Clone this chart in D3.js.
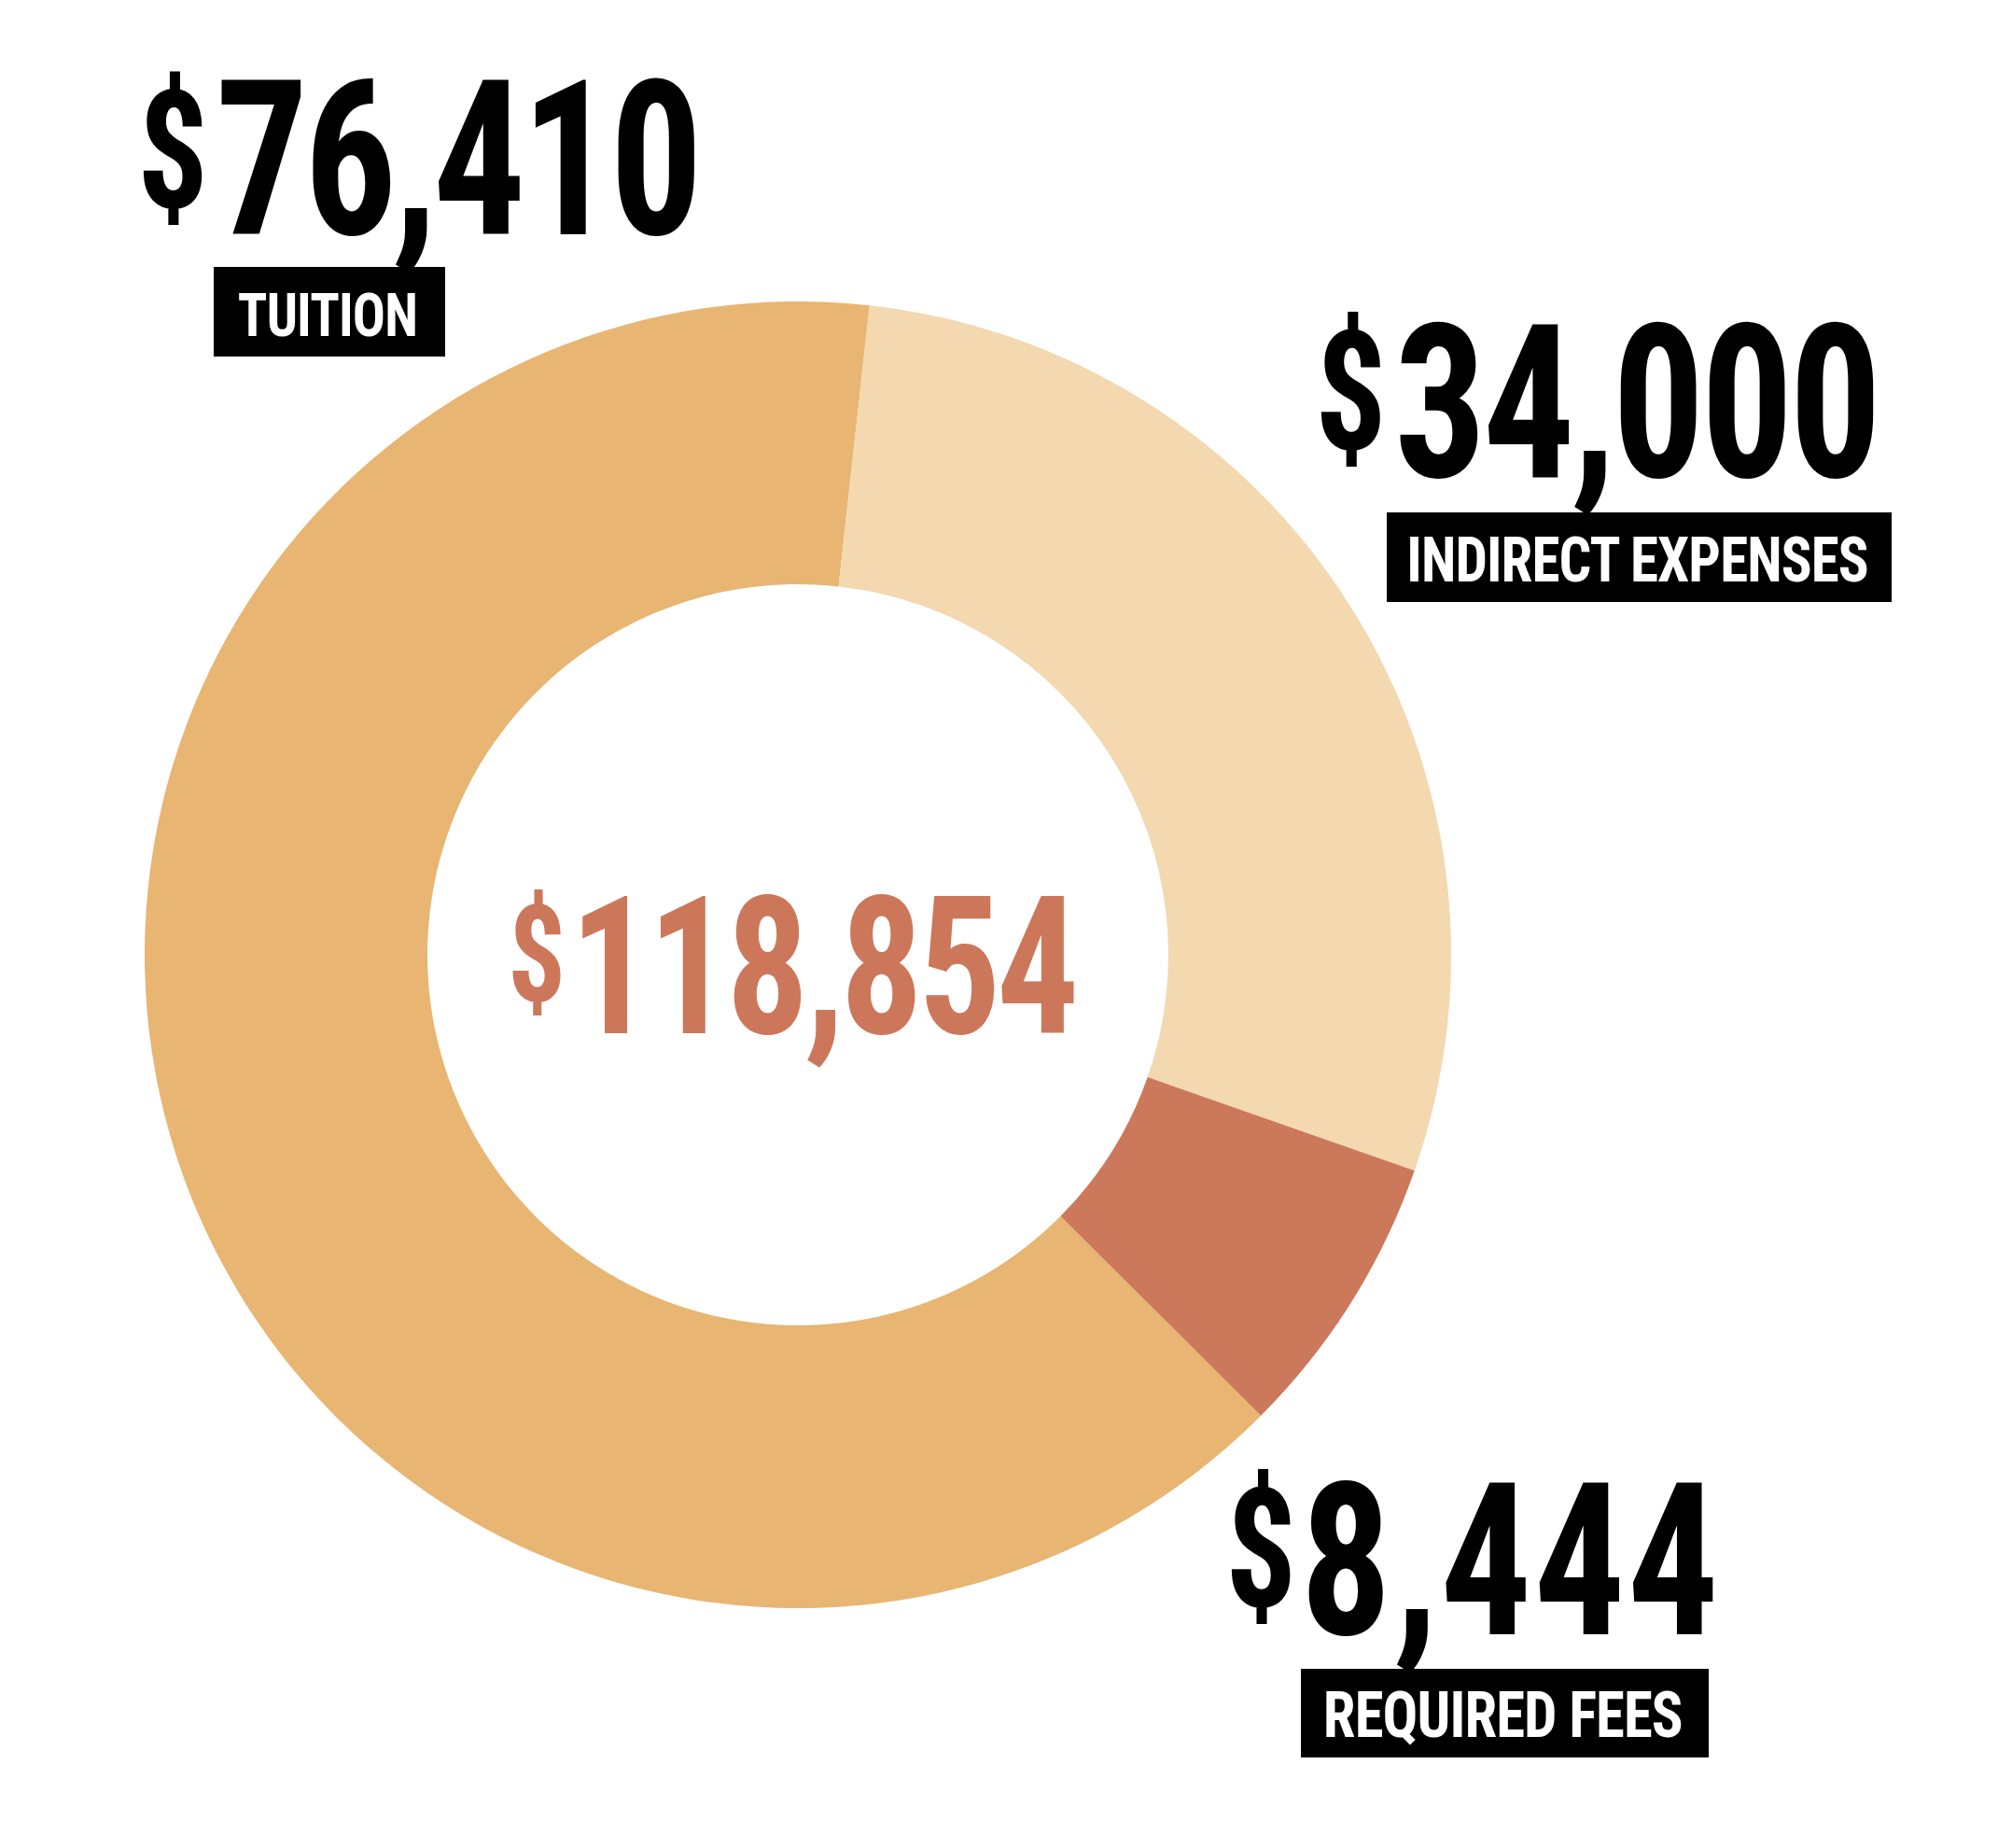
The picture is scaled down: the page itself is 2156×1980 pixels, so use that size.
<!DOCTYPE html>
<html>
<head>
<meta charset="utf-8">
<script src="https://cdn.jsdelivr.net/npm/d3@7"></script>
<style>
  html, body { margin: 0; padding: 0; background: #ffffff; }
  svg { display: block; }
</style>
</head>
<body>
<svg id="chart" width="2156" height="1980"></svg>
<script>
// ---------------- DATA ----------------
const categories = ["Tuition", "Indirect Expenses", "Required Fees"];
const categoryLabels = ["TUITION", "INDIRECT EXPENSES", "REQUIRED FEES"];
const values = [76410, 34000, 8444];
const sliceColors = ["#E8B572", "#F3D8B0", "#CC785A"];

// ---------------- LAYOUT ----------------
const W = 2156, H = 1980;
const cx = 855, cy = 1023, rOuter = 700, rInner = 397;
const tuitionEndDeg = 6.3;           // where the Tuition slice ends, clockwise from 12 o'clock
const totalColor = "#CD775A";
const FONT = '"Roboto Condensed", Roboto, sans-serif';
const digitAspect = 0.49;            // ink width of "0" / digit height in the reference face
const tagTracking = -0.015;          // letter-spacing of the tag text, in em

// ink boxes of the value labels (dollar sign and digits)
const valueLayout = [
  { dollar: { x: 153,  top: 74.5, bottom: 241 },  num: { x0: 237,  x1: 744,    top: 82,   base: 250.7 } },
  { dollar: { x: 1415, top: 333,  bottom: 501 },  num: { x0: 1500, x1: 2007.5, top: 344,  base: 511.5 } },
  { dollar: { x: 1319, top: 1574, bottom: 1741 }, num: { x0: 1401, x1: 1837,   top: 1585, base: 1751 } }
];
// black tag boxes and their text ink boxes
const tagLayout = [
  { box: [229, 286, 477, 382],     text: { x0: 256,  x1: 445,  top: 314,   base: 360.5 } },
  { box: [1486, 549, 2027, 645],   text: { x0: 1511, x1: 2001, top: 574.5, base: 623 } },
  { box: [1394, 1788, 1831, 1883], text: { x0: 1421, x1: 1802, top: 1812,  base: 1861 } }
];
const totalLayout = { dollar: { x: 549, top: 953, bottom: 1089 }, num: { x0: 623, x1: 1152, top: 957, base: 1107 } };

// ---------------- HELPERS ----------------
const svg = d3.select("#chart");
const ctx = document.createElement("canvas").getContext("2d");
const probe = svg.append("text").attr("x", -5000).attr("y", -5000)
  .style("font-family", FONT).style("font-size", "100px");

// ink metrics at 100px; horizontal values corrected to the face the SVG really uses
function measure(str, weight) {
  ctx.font = `${weight} 100px ${FONT}`;
  const m = ctx.measureText(str);
  probe.style("font-weight", weight).text(str);
  const svgAdv = probe.node().getComputedTextLength();
  const r = m.width > 0 ? svgAdv / m.width : 1;
  return { left: m.actualBoundingBoxLeft * r, right: m.actualBoundingBoxRight * r,
           asc: m.actualBoundingBoxAscent, desc: m.actualBoundingBoxDescent,
           w: (m.actualBoundingBoxLeft + m.actualBoundingBoxRight) * r };
}

// digits: height by font-size, glyph width by horizontal scale, total width by letter-spacing
function fitDigits(str, T, weight) {
  const m = measure(str, weight);
  const fs = (T.base - T.top) / m.asc * 100;
  const mg = measure("0", weight);
  const sx = digitAspect * (T.base - T.top) / (mg.w * fs / 100);
  const n = str.length;
  const ls = n > 1 ? ((T.x1 - T.x0) / sx - m.w * fs / 100) / (n - 1) : 0;
  return { m, fs, sx, ls };
}

// tag text: height by font-size, fixed tracking, total width by horizontal scale
function fitTag(str, T, weight) {
  const m = measure(str, weight);
  const fs = (T.base - T.top) / m.asc * 100;
  const ls = tagTracking * fs;
  const sx = (T.x1 - T.x0) / (m.w * fs / 100 + (str.length - 1) * ls);
  return { m, fs, sx, ls };
}

function drawValue(g, str, L, color, weight) {
  const dollar = str.slice(0, 1), num = str.slice(1);
  const p = fitDigits(num, L.num, weight);
  const md = measure(dollar, weight);
  const fsd = (L.dollar.bottom - L.dollar.top) / (md.asc + md.desc) * 100;
  const yd = L.dollar.top + md.asc * fsd / 100;
  const t = g.append("text")
    .attr("transform", `scale(${p.sx},1)`)
    .attr("fill", color)
    .style("font-family", FONT)
    .style("font-weight", weight)
    .style("letter-spacing", p.ls + "px");
  t.append("tspan")
    .attr("x", L.dollar.x / p.sx + md.left * fsd / 100)
    .attr("y", yd)
    .style("font-size", fsd + "px")
    .text(dollar);
  t.append("tspan")
    .attr("x", L.num.x0 / p.sx + p.m.left * p.fs / 100)
    .attr("y", L.num.base)
    .style("font-size", p.fs + "px")
    .text(num);
}

function drawTagText(g, str, T, color, weight) {
  const p = fitTag(str, T, weight);
  g.append("text")
    .attr("transform", `scale(${p.sx},1)`)
    .attr("x", T.x0 / p.sx + p.m.left * p.fs / 100)
    .attr("y", T.base)
    .attr("fill", color)
    .style("font-family", FONT)
    .style("font-weight", weight)
    .style("font-size", p.fs + "px")
    .style("letter-spacing", p.ls + "px")
    .text(str);
}

// ---------------- CHART ----------------
svg.insert("rect", ":first-child").attr("width", W).attr("height", H).attr("fill", "#ffffff");

const total = d3.sum(values);
const color = d3.scaleOrdinal(categories, sliceColors);
const fmt = d3.format("$,");

const tuitionSpan = 2 * Math.PI * values[0] / total;
const a0 = tuitionEndDeg * Math.PI / 180 - tuitionSpan;
const pie = d3.pie().sort(null).value(d => d.value).startAngle(a0).endAngle(a0 + 2 * Math.PI);
const arc = d3.arc().innerRadius(rInner).outerRadius(rOuter);

const data = categories.map((c, i) => ({ category: c, value: values[i] }));

svg.append("g")
  .attr("transform", `translate(${cx},${cy})`)
  .selectAll("path")
  .data(pie(data))
  .join("path")
  .attr("d", arc)
  .attr("fill", d => color(d.data.category));

// value labels
const gLab = svg.append("g");
values.forEach((v, i) => drawValue(gLab, fmt(v), valueLayout[i], "#000000", "bold"));

// tag boxes
categoryLabels.forEach((lab, i) => {
  const b = tagLayout[i].box;
  gLab.append("rect")
    .attr("x", b[0]).attr("y", b[1])
    .attr("width", b[2] - b[0]).attr("height", b[3] - b[1])
    .attr("fill", "#000000");
  drawTagText(gLab, lab, tagLayout[i].text, "#ffffff", "bold");
});

// total in the centre
drawValue(gLab, fmt(total), totalLayout, totalColor, "bold");

probe.remove();
</script>
</body>
</html>
